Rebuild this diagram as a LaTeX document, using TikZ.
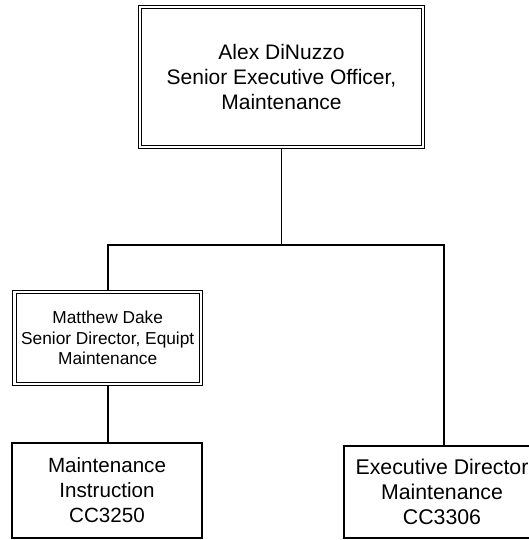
\documentclass[tikz,border=0pt]{standalone}
\usepackage{fontspec}
\setmainfont{Liberation Sans}
\usetikzlibrary{backgrounds}
\begin{document}
\begin{tikzpicture}[x=1pt,y=-1pt,
  dbox/.style={draw, double, line width=1.3pt, double distance=2.1pt, inner sep=0pt, align=center},
  sbox/.style={draw, line width=1.6pt, inner sep=0pt, align=center},
  link/.style={line width=1.6pt},
  bigtext/.style={font=\fontsize{21}{25}\selectfont},
  midtext/.style={font=\fontsize{17.3}{20.5}\selectfont},
  lowtext/.style={font=\fontsize{20.6}{25}\selectfont},
  rtext/.style={font=\fontsize{21.3}{25}\selectfont}]
\useasboundingbox (0,0) rectangle (529,540);
\clip (0,0) rectangle (529,540);
\node[dbox, bigtext, minimum width=283pt, minimum height=140pt] (top) at (281.5,77)
  {Alex DiNuzzo\\Senior Executive Officer,\\Maintenance};
\node[dbox, midtext, minimum width=186.5pt, minimum height=92pt] (mat) at (107.75,338)
  {Matthew Dake\\Senior Director, Equipt\\Maintenance};
\node[sbox, lowtext, minimum width=190pt, minimum height=95pt] (lbox) at (107,490.5)
  {Maintenance\\Instruction\\CC3250};
\node[sbox, rtext, minimum width=196pt, minimum height=92pt] (rbox) at (442,492)
  {Executive Director\\Maintenance\\CC3306};
\coordinate (barR) at (444,245);
\begin{scope}[on background layer]
\draw[link] (top.south) -- (top.south |- barR);
\draw[link] (mat.north) |- (barR) -- (barR |- rbox.north);
\draw[link] (mat.south) -- (mat.south |- lbox.north);
\end{scope}
\end{tikzpicture}
\end{document}
